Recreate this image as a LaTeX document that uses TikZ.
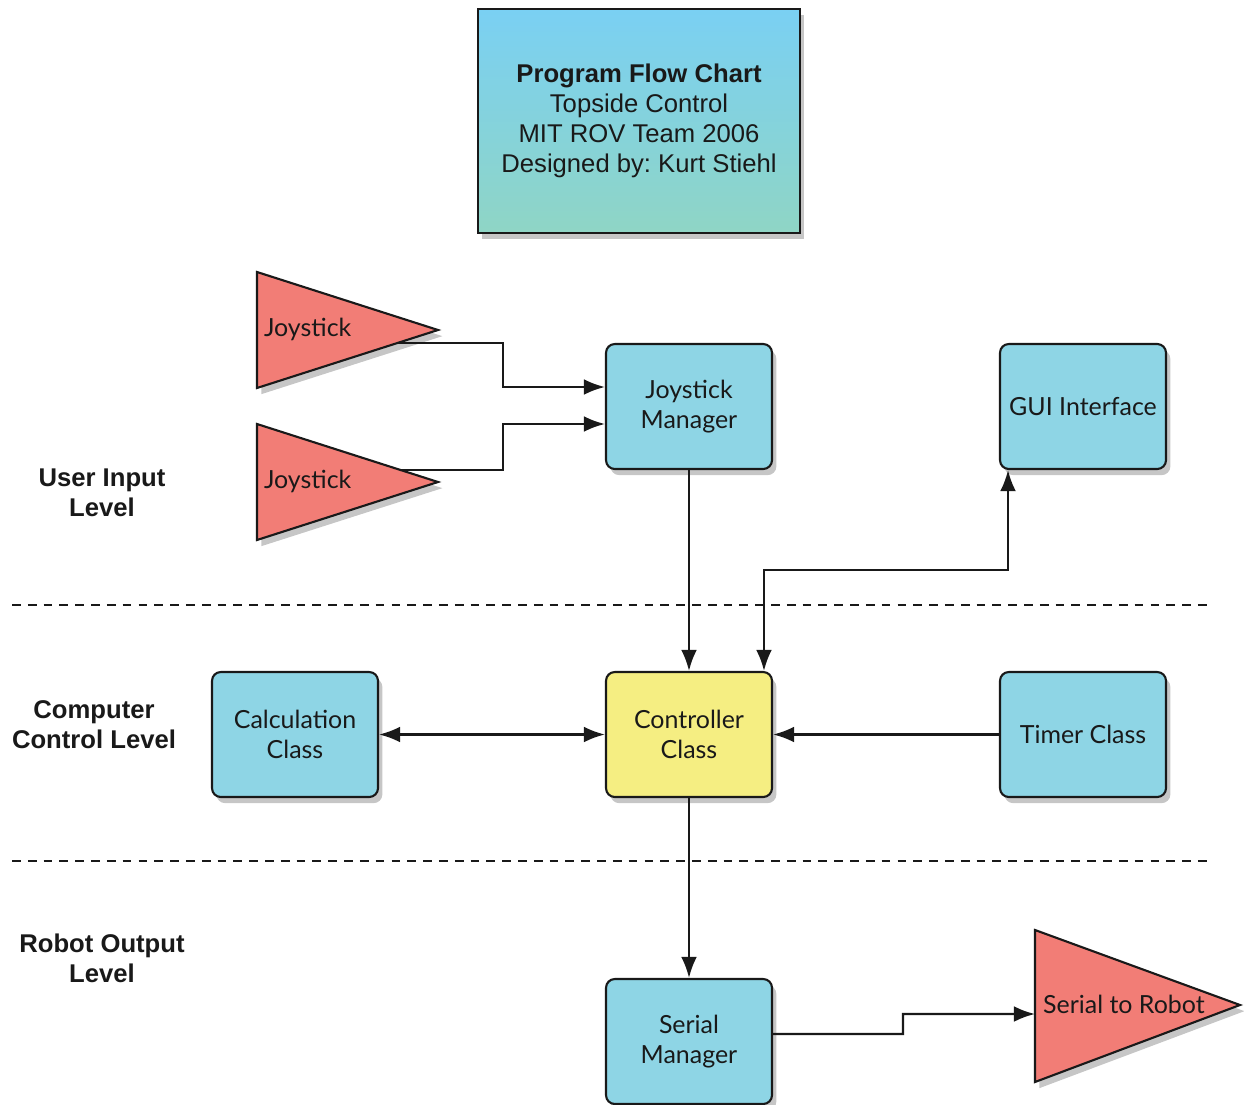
\documentclass[tikz,border=0pt]{standalone}
\usepackage{fontspec}
\setmainfont{Liberation Sans}
\newfontfamily\boxfont{Lato}
\usetikzlibrary{arrows.meta,shadows}
\frenchspacing

\definecolor{boxblue}{RGB}{142,213,229}
\definecolor{boxyellow}{RGB}{245,238,130}
\definecolor{trired}{RGB}{242,125,118}
\definecolor{titletop}{RGB}{122,208,243}
\definecolor{titlebot}{RGB}{143,213,197}
\definecolor{ink}{RGB}{25,25,25}

\begin{document}
\begin{tikzpicture}[x=0.02cm,y=-0.02cm,
    >={Latex[length=12pt,width=9pt]},
    shade/.style={drop shadow={shadow xshift=2.5pt,shadow yshift=-3.5pt,opacity=0.45}},
    block/.style={draw=ink, line width=1.2pt, rounded corners=5pt, fill=boxblue,
        minimum width=3.32cm, minimum height=2.5cm, align=center, text=ink,
        font=\boxfont\fontsize{14.2}{17}\selectfont, shade},
    tri/.style={draw=ink, line width=1.2pt, fill=trired, line join=miter, shade},
    trilabel/.style={inner sep=1pt, text=ink, font=\boxfont\fontsize{14.2}{17}\selectfont},
    wire/.style={draw=ink, line width=1.3pt},
    level/.style={align=center, text=ink, font=\bfseries\fontsize{14.6}{17}\selectfont}]
    \useasboundingbox (0,0) rectangle (1244,1105);

    % title
    \node[draw=ink, line width=1.5pt, top color=titletop, bottom color=titlebot,
        minimum width=6.44cm, minimum height=4.48cm, align=center, text=ink,
        font=\fontsize{14.6}{17}\selectfont, shade] (title) at (639,121)
        {\textbf{Program Flow Chart}\\Topside Control\\MIT ROV Team 2006\\Designed by: Kurt Stiehl};

    % levels
    \foreach \y in {605,861}
        \draw[ink, line width=1.2pt, dash pattern=on 5pt off 4pt] (12,\y) -- (1212,\y);
    \node[level] (lvlinput) at (102,493) {User Input\\Level};
    \node[level] (lvlcomp) at (94,725) {Computer\\Control Level};
    \node[level] (lvlrobot) at (102,958) {Robot Output\\Level};

    % joysticks
    \foreach \n/\ty in {1/272,2/424}
    {
        \draw[tri] (257,\ty) -- ++(181,58) -- ++(-181,58) -- cycle;
        \node[trilabel, anchor=west] (joy\n) at (262,\ty+57) {Joystick};
    }
    \coordinate (joyout1) at (397,343);
    \coordinate (joyout2) at (401,470);

    % serial output
    \draw[tri] (1035,930) -- (1240,1005) -- (1035,1082) -- cycle;
    \node[trilabel, anchor=west] (robot) at (1041,1004) {Serial to Robot};
    \coordinate (robotin) at (1035,1014);

    % classes
    \node[block] (jm) at (689,406.5) {Joystick\\Manager};
    \node[block] (gui) at (1083,406.5) {GUI Interface};
    \node[block] (calc) at (295,734.5) {Calculation\\Class};
    \node[block, fill=boxyellow] (ctrl) at (689,734.5) {Controller\\Class};
    \node[block] (timer) at (1083,734.5) {Timer Class};
    \node[block] (serial) at (689,1041.5) {Serial\\Manager};

    \draw[wire,->] (joyout1) -- (503,343) |- ([yshift=0.39cm]jm.west);
    \draw[wire,->] (joyout2) -- (503,470) |- ([yshift=-0.35cm]jm.west);
    \draw[wire,->] (jm) -- (ctrl);
    \draw[wire,<->] ([xshift=1.5cm]ctrl.north) -- ++(0,-101) -| ([xshift=-1.5cm]gui.south);
    \draw[wire,<->] (calc) -- (ctrl);
    \draw[wire,->] (timer) -- (ctrl);
    \draw[wire,->] (ctrl) -- (serial);
    \draw[wire,->] ([yshift=0.15cm]serial.east) -- (903,1034) |- (robotin);
\end{tikzpicture}
\end{document}
